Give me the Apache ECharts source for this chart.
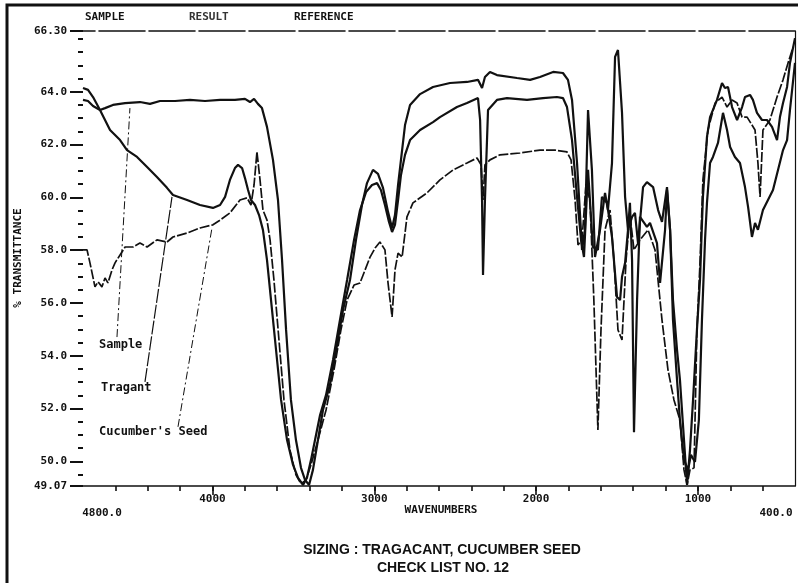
<!DOCTYPE html>
<html>
<head>
<meta charset="utf-8">
<script src="https://cdn.jsdelivr.net/npm/echarts@6/dist/echarts.min.js"></script>
<style>
  html, body { margin: 0; padding: 0; background: #fff; }
  #chart { width: 798px; height: 583px; }
</style>
</head>
<body>
<div id="chart"></div>
<script>
// wavenumbers (cm-1) and % transmittance
var sampleWn = [4800,4769,4738,4695,4664,4615,4540,4448,4386,4324,4231,4139,4046,3953,3861,3799,3768,3743,3719,3694,3663,3626,3595,3570,3545,3515,3484,3453,3428,3403,3379,3348,3317,3274,3230,3193,3150,3113,3076,3045,3008,2977,2946,2915,2890,2872,2853,2835,2810,2779,2717,2637,2532,2427,2359,2334,2316,2285,2242,2118,2037,1976,1895,1834,1803,1778,1747,1729,1716,1698,1679,1655,1636,1605,1574,1556,1531,1512,1494,1469,1450,1432,1407,1389,1370,1339,1315,1277,1246,1222,1191,1172,1154,1129,1111,1086,1067,1049,1030,1006,987,969,944,925,907,882,851,833,814,789,758,727,709,678,660,635,604,573,542,511,493,474,449,431,400];
var sampleT = [63.69,63.65,63.46,63.31,63.38,63.50,63.57,63.61,63.54,63.65,63.65,63.69,63.65,63.69,63.69,63.73,63.61,63.73,63.54,63.38,62.67,61.42,59.90,57.63,54.98,52.33,50.81,49.76,49.30,49.11,49.68,50.81,51.95,52.90,54.41,55.74,56.87,58.39,59.71,60.54,61.04,60.89,60.36,59.45,58.84,59.33,60.47,61.42,62.74,63.50,63.91,64.18,64.33,64.37,64.45,64.14,64.56,64.75,64.63,64.52,64.45,64.56,64.75,64.71,64.45,63.69,61.30,59.41,58.01,58.77,63.31,61.04,57.74,58.77,60.17,59.52,61.30,65.32,65.58,63.20,60.02,58.77,59.26,59.41,58.27,60.39,60.58,60.39,59.52,59.07,60.39,58.77,56.11,54.22,53.09,50.81,49.11,50.43,52.33,54.98,56.87,60.02,62.29,63.04,63.31,63.69,64.33,64.14,64.18,63.42,62.93,63.42,63.80,63.88,63.69,63.20,62.93,62.93,62.67,62.17,63.04,63.57,64.18,65.09,66.03];

var tragWn = [4800,4769,4738,4695,4664,4633,4571,4528,4466,4404,4343,4281,4244,4157,4077,3997,3953,3922,3892,3861,3842,3817,3799,3780,3762,3737,3712,3688,3663,3638,3607,3576,3539,3502,3471,3440,3416,3391,3360,3335,3298,3255,3212,3168,3125,3088,3051,3014,2983,2959,2934,2909,2890,2872,2853,2835,2810,2779,2717,2637,2594,2489,2427,2359,2346,2334,2328,2316,2297,2242,2180,2056,1957,1871,1834,1809,1778,1747,1722,1704,1679,1649,1618,1593,1562,1531,1500,1481,1469,1450,1432,1420,1407,1395,1376,1358,1315,1296,1253,1234,1203,1191,1172,1154,1129,1111,1086,1061,1043,1018,994,975,956,944,925,907,876,845,820,801,771,740,709,690,666,647,629,598,567,536,505,474,449,431,400];
var tragT = [64.14,64.07,63.80,63.31,62.93,62.55,62.17,61.79,61.53,61.15,60.77,60.36,60.09,59.90,59.71,59.60,59.71,60.02,60.66,61.11,61.23,61.11,60.73,60.28,59.90,59.71,59.33,58.77,57.63,56.11,54.22,52.33,50.81,49.87,49.38,49.11,49.38,50.06,51.00,51.76,52.52,53.84,55.36,56.87,58.39,59.52,60.20,60.47,60.54,60.28,59.71,59.07,58.69,58.96,59.90,60.85,61.61,62.17,62.55,62.85,63.04,63.42,63.57,63.76,62.93,59.90,57.06,59.90,63.31,63.69,63.76,63.69,63.76,63.80,63.76,63.42,62.17,60.02,58.39,57.74,61.04,58.12,58.01,60.02,59.79,58.50,56.23,56.11,56.99,57.52,58.77,59.79,57.63,51.11,56.11,59.26,58.88,59.03,58.27,56.76,58.77,60.28,58.77,55.36,53.09,51.57,50.06,49.68,50.25,49.98,51.57,55.36,58.39,59.79,61.30,61.53,62.06,63.20,62.55,61.91,61.53,61.30,60.39,59.64,58.50,59.03,58.77,59.52,59.90,60.28,61.04,61.79,62.17,63.31,65.09];

var cucWn = [4800,4775,4757,4726,4707,4683,4664,4646,4621,4602,4571,4540,4491,4448,4404,4343,4281,4244,4157,4077,3997,3953,3892,3830,3786,3762,3743,3725,3706,3688,3663,3644,3620,3589,3558,3521,3484,3453,3422,3391,3348,3298,3249,3206,3168,3125,3088,3057,3026,2995,2965,2934,2915,2890,2872,2853,2828,2810,2798,2761,2674,2594,2513,2427,2365,2340,2328,2316,2285,2223,2099,1976,1883,1809,1784,1759,1741,1716,1692,1667,1643,1618,1599,1574,1543,1519,1494,1469,1444,1420,1395,1358,1308,1265,1222,1185,1148,1111,1086,1067,1049,1024,1006,987,969,938,894,851,820,789,758,727,696,647,629,616,598,555,511,474,443,412];
var cucT = [58.01,58.01,57.52,56.61,56.80,56.61,56.95,56.76,57.25,57.52,57.82,58.12,58.12,58.27,58.12,58.39,58.31,58.50,58.65,58.84,58.96,59.14,59.41,59.90,59.98,59.71,60.47,61.72,60.66,59.52,59.14,58.39,56.87,54.60,52.33,50.43,49.49,49.15,49.30,49.87,50.81,51.95,53.47,54.98,56.11,56.68,56.76,57.25,57.74,58.08,58.31,58.01,56.76,55.47,57.25,57.89,57.74,58.65,59.26,59.79,60.17,60.66,61.04,61.30,61.49,61.23,59.90,61.23,61.42,61.61,61.68,61.79,61.79,61.72,61.42,59.90,58.20,58.39,60.47,59.90,56.11,51.19,54.98,58.77,59.52,57.63,54.98,54.60,57.63,59.33,58.01,58.39,58.77,58.01,55.36,53.47,52.33,51.57,49.68,49.11,49.68,49.76,54.98,57.52,60.66,62.55,63.57,63.80,63.42,63.69,63.57,63.04,63.04,62.55,61.30,60.02,62.55,62.93,63.80,64.45,65.09,65.69];

// leader lines from the hand labels to their curves: [wavenumber, %T] ends
var sampleLeader = [[4590, 54.71], [4510, 63.38]];
var tragLeader = [[4417, 53.01], [4250, 60.02]];
var cucLeader = [[4213, 51.31], [4003, 58.84]];

// ticks and labels
var yLabelValues = [49.07, 50, 52, 54, 56, 58, 60, 62, 64, 66.3];
var xLabelValues = [4800, 4000, 3000, 2000, 1000, 400];
var xMajorTicks = [4000, 3000, 2000, 1000];

var yMinorTicks = [];
for (var v = 49.5; v <= 66; v += 0.5) yMinorTicks.push(v);
var xMinorTicks = [];
for (var w = 4600; w >= 600; w -= 200) xMinorTicks.push(w);

function zip(a, b) {
  var out = [];
  for (var i = 0; i < a.length && i < b.length; i++) out.push([a[i], b[i]]);
  return out;
}

var ink = '#111';
var monoFamily = '"DejaVu Sans Mono", monospace';
var mono = 'bold 12px "DejaVu Sans Mono", monospace';
var monoSmall = 'bold 11px "DejaVu Sans Mono", monospace';
var tickText = { color: ink, fontFamily: monoFamily, fontWeight: 'bold', fontSize: 11 };

var chart = echarts.init(document.getElementById('chart'));

var option = {
  backgroundColor: '#fff',
  animation: false,
  grid: { left: 83, right: 3, top: 31, bottom: 97, containLabel: false },
  xAxis: [
    {
      type: 'value', min: 400, max: 4800, inverse: true, position: 'bottom',
      splitLine: { show: false },
      axisLine: { lineStyle: { color: ink, width: 1.6 } },
      axisTick: { customValues: xMinorTicks, length: 5, lineStyle: { color: ink, width: 1.6 } },
      axisLabel: {
        customValues: xLabelValues,
        margin: 8,
        color: ink, fontFamily: monoFamily, fontWeight: 'bold', fontSize: 11,
        formatter: function (v) {
          if (v === 4800) return '{a|4800.0}';
          if (v === 400) return '{b|400.0}';
          return String(v);
        },
        rich: {
          a: { color: ink, fontFamily: monoFamily, fontWeight: 'bold', fontSize: 11, padding: [14, 0, 0, 38] },
          b: { color: ink, fontFamily: monoFamily, fontWeight: 'bold', fontSize: 11, padding: [14, 38, 0, 0] }
        }
      }
    },
    {
      type: 'value', min: 400, max: 4800, inverse: true, position: 'bottom', offset: 0,
      splitLine: { show: false },
      axisLine: { show: false },
      axisTick: { customValues: xMajorTicks, length: 9, lineStyle: { color: ink, width: 1.6 } },
      axisLabel: { show: false }
    },
    {
      type: 'value', min: 400, max: 4800, inverse: true, position: 'top',
      splitLine: { show: false },
      axisLine: { lineStyle: { color: ink, width: 1.6, type: [46, 4] } },
      axisTick: { show: false },
      axisLabel: { show: false }
    }
  ],
  yAxis: [
    {
      type: 'value', min: 49.07, max: 66.3, position: 'left',
      splitLine: { show: false },
      axisLine: { show: false },
      axisTick: { show: true, customValues: yMinorTicks, length: 5, lineStyle: { color: ink, width: 2 } },
      axisLabel: { show: false }
    },
    {
      type: 'value', min: 49.07, max: 66.3, position: 'left', offset: 0,
      splitLine: { show: false },
      axisLine: { show: false },
      axisTick: { show: true, customValues: yLabelValues, length: 13, lineStyle: { color: ink, width: 2 } },
      axisLabel: {
        customValues: yLabelValues,
        margin: 16,
        color: ink, fontFamily: monoFamily, fontWeight: 'bold', fontSize: 11,
        formatter: function (v) {
          if (v === 66.3) return '66.30';
          if (v === 49.07) return '49.07';
          return v.toFixed(1);
        }
      }
    },
    {
      type: 'value', min: 49.07, max: 66.3, position: 'right',
      splitLine: { show: false },
      axisLine: { show: true, lineStyle: { color: ink, width: 1.2 } },
      axisTick: { show: false },
      axisLabel: { show: false }
    }
  ],
  series: [
    {
      name: 'Sample', type: 'line', showSymbol: false, symbol: 'none',
      data: zip(sampleWn, sampleT),
      lineStyle: { color: ink, width: 2.2 }
    },
    {
      name: 'Tragant', type: 'line', showSymbol: false, symbol: 'none',
      data: zip(tragWn, tragT),
      lineStyle: { color: ink, width: 2.2 }
    },
    {
      name: "Cucumber's Seed", type: 'line', showSymbol: false, symbol: 'none',
      data: zip(cucWn, cucT),
      lineStyle: { color: ink, width: 1.7, type: [10, 2] }
    },
    {
      type: 'line', showSymbol: false, symbol: 'none', silent: true,
      data: sampleLeader,
      lineStyle: { color: ink, width: 1, type: [8, 3, 2, 3] }
    },
    {
      type: 'line', showSymbol: false, symbol: 'none', silent: true,
      data: tragLeader,
      lineStyle: { color: ink, width: 1.2, type: [14, 2] }
    },
    {
      type: 'line', showSymbol: false, symbol: 'none', silent: true,
      data: cucLeader,
      lineStyle: { color: ink, width: 1, type: [8, 3, 2, 3] }
    }
  ],
  graphic: [
    { type: 'rect', shape: { x: 7, y: 5, width: 800, height: 585 },
      style: { fill: 'none', stroke: ink, lineWidth: 3 } },
    { type: 'text', x: 85, y: 17, style: { text: 'SAMPLE', font: monoSmall, fill: ink, textAlign: 'left', textVerticalAlign: 'middle' } },
    { type: 'text', x: 189, y: 17, style: { text: 'RESULT', font: monoSmall, fill: '#333', textAlign: 'left', textVerticalAlign: 'middle' } },
    { type: 'text', x: 294, y: 17, style: { text: 'REFERENCE', font: monoSmall, fill: ink, textAlign: 'left', textVerticalAlign: 'middle' } },
    { type: 'text', x: 18, y: 258, rotation: Math.PI / 2,
      style: { text: '% TRANSMITTANCE', font: monoSmall, fill: ink, textAlign: 'center', textVerticalAlign: 'middle' } },
    { type: 'text', x: 441, y: 510, style: { text: 'WAVENUMBERS', font: monoSmall, fill: ink, textAlign: 'center', textVerticalAlign: 'middle' } },
    { type: 'text', x: 99, y: 345, style: { text: 'Sample', font: mono, fill: ink, textAlign: 'left', textVerticalAlign: 'middle' } },
    { type: 'text', x: 101, y: 388, style: { text: 'Tragant', font: mono, fill: ink, textAlign: 'left', textVerticalAlign: 'middle' } },
    { type: 'text', x: 99, y: 432, style: { text: "Cucumber's Seed", font: mono, fill: ink, textAlign: 'left', textVerticalAlign: 'middle' } },
    { type: 'text', x: 442, y: 550, style: { text: 'SIZING : TRAGACANT, CUCUMBER SEED', font: 'bold 14px "Liberation Sans", Arial, sans-serif', fill: ink, textAlign: 'center', textVerticalAlign: 'middle' } },
    { type: 'text', x: 443, y: 568, style: { text: 'CHECK LIST NO. 12', font: 'bold 14px "Liberation Sans", Arial, sans-serif', fill: ink, textAlign: 'center', textVerticalAlign: 'middle' } }
  ]
};

chart.setOption(option);
</script>
</body>
</html>
